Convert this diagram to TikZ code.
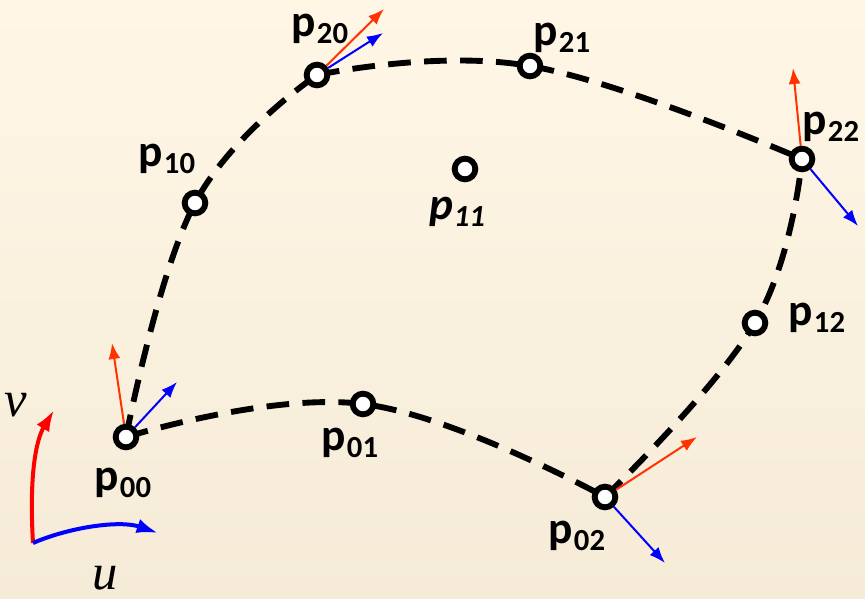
\documentclass[tikz,border=0pt]{standalone}
\usepackage{fontspec}
\setsansfont{Carlito}
\newfontfamily\axfont{Liberation Serif}
\usetikzlibrary{arrows.meta,backgrounds}

\definecolor{bgtop}{RGB}{255,246,230}
\definecolor{bgbot}{RGB}{245,235,215}
\definecolor{tanred}{RGB}{255,51,0}
\definecolor{tanblue}{RGB}{0,0,255}

\newcommand{\plab}[1]{p\kern0.5pt\raisebox{-0.3ex}{\fontsize{23}{23}\selectfont #1}}

\tikzset{every picture/.style={line width=0.75pt}}
\tikzset{
  cpt/.style={circle,draw,fill=white,line width=4.4pt,minimum size=15.5pt,inner sep=0pt},
  clab/.style={font=\sffamily\bfseries\fontsize{34}{36}\selectfont,inner sep=0.75pt},
  bnd/.style={line width=4.4pt,dash pattern=on 17pt off 10pt},
  tanr/.style={tanred,line width=1.5pt,-{Latex[length=12pt,width=9pt]}},
  tanb/.style={tanblue,line width=1.5pt,-{Latex[length=12pt,width=9pt]}},
  axlab/.style={font=\axfont\itshape\fontsize{38}{40}\selectfont,inner sep=0.75pt},
}

\begin{document}
\begin{tikzpicture}[x=0.75pt,y=0.75pt,yscale=-1,xscale=1]

%Shape: Background
\begin{pgfonlayer}{background}
\shade [top color=bgtop,bottom color=bgbot] (0,0) rectangle (865,599);
\end{pgfonlayer}
\useasboundingbox (0,0) rectangle (865,599);

%Control points
\node [cpt] (p00) at (126,437) {};
\node [cpt] (p01) at (363,404) {};
\node [cpt] (p02) at (605,497) {};
\node [cpt] (p10) at (195,203) {};
\node [cpt] (p11) at (465,169) {};
\node [cpt] (p12) at (755,323) {};
\node [cpt] (p20) at (317,75) {};
\node [cpt] (p21) at (530,66) {};
\node [cpt] (p22) at (802,159) {};

%Dashed boundary curves
\begin{pgfonlayer}{background}
\draw [bnd] plot [smooth,tension=0.7] coordinates {(p00.center) (p01.center) (p02.center)};
\draw [bnd] plot [smooth,tension=0.7] coordinates {(p20.center) (p21.center) (p22.center)};
\draw [bnd] plot [smooth,tension=0.7] coordinates {(p00.center) (p10.center) (p20.center)};
\draw [bnd] plot [smooth,tension=0.7] coordinates {(p02.center) (p12.center) (p22.center)};
\end{pgfonlayer}

%Tangent arrows
\coordinate (r00) at (112,343);
\coordinate (b00) at (177,382);
\coordinate (r20) at (384,9);
\coordinate (b20) at (383,33);
\coordinate (r22) at (793,68);
\coordinate (b22) at (858,226);
\coordinate (r02) at (697,437);
\coordinate (b02) at (665,563);
\draw [tanr] (p00) -- (r00);
\draw [tanb] (p00) -- (b00);
\draw [tanr] (p20) -- (r20);
\draw [tanb] (p20) -- (b20);
\draw [tanr] (p22) -- (r22);
\draw [tanb] (p22) -- (b22);
\draw [tanr] (p02) -- (r02);
\draw [tanb] (p02) -- (b02);

%Parameter directions
\coordinate (uvo) at (33,543);
\coordinate (vtip) at (54,410);
\coordinate (utip) at (158,533);
\draw [red,line width=3pt,-{Latex[length=16pt,width=11pt]}] (uvo) .. controls (29,475) and (36,440) .. (vtip);
\draw [tanblue,line width=3pt,-{Latex[length=16pt,width=11pt]}] (uvo) .. controls (70,527) and (120,520) .. (utip);

% Text Node
\node [axlab] (labv) at (16,405) {v};
\node [axlab] (labu) at (105,578) {u};
\node [clab] (lab00) at (123,483) {\plab{00}};
\node [clab] (lab01) at (350,443) {\plab{01}};
\node [clab] (lab02) at (577,536) {\plab{02}};
\node [clab] (lab10) at (167,159) {\plab{10}};
\node [clab,font=\sffamily\bfseries\itshape\fontsize{34}{36}\selectfont] (lab11) at (457,212) {\plab{11}};
\node [clab] (lab12) at (817,318) {\plab{12}};
\node [clab] (lab20) at (320,29) {\plab{20}};
\node [clab] (lab21) at (562,38) {\plab{21}};
\node [clab] (lab22) at (831,127) {\plab{22}};

\end{tikzpicture}
\end{document}
